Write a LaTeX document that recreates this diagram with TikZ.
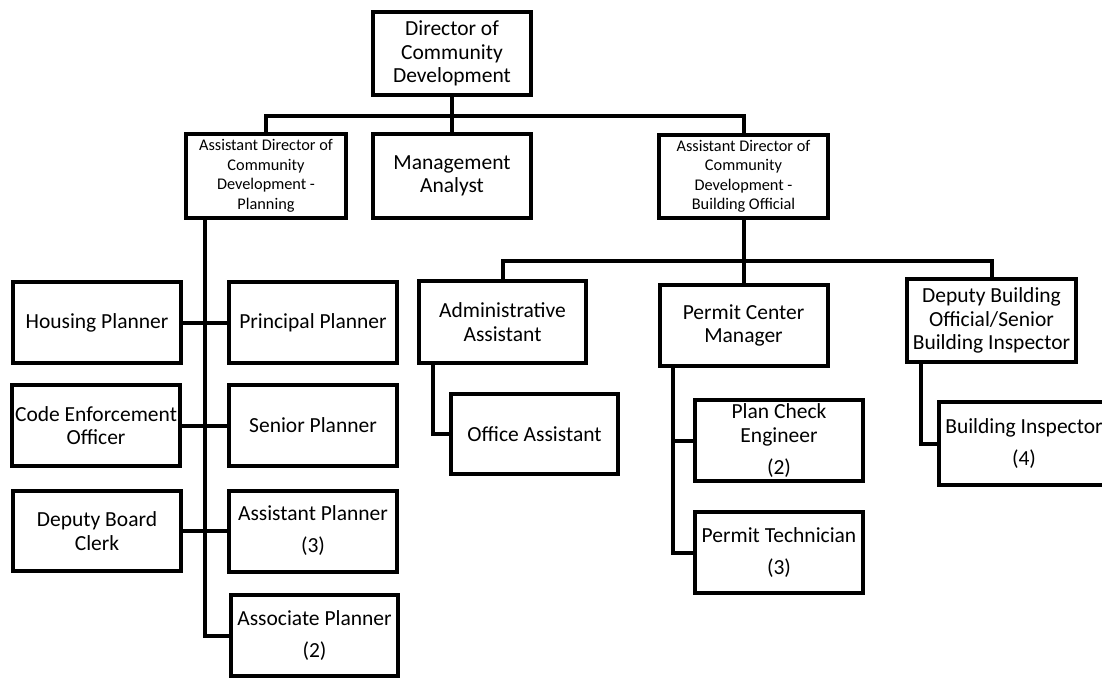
\documentclass[tikz,border=0pt]{standalone}
\usepackage{fontspec}
\setmainfont{Carlito}

\begin{document}
\begin{tikzpicture}[
            x=1pt, y=-1pt,
            post/.style={draw, line width=4pt, align=center, inner sep=0pt,
                minimum width=168pt, minimum height=81pt,
                font=\fontsize{21.5}{23.5}\selectfont},
            smallpost/.style={post, font=\fontsize{16.3}{19.5}\selectfont},
            link/.style={line width=4pt}
        ]
            \useasboundingbox (0,0) rectangle (1102,677);
            \clip (0,0) rectangle (1102,677);

            \node[post, minimum width=158pt, minimum height=83pt] (dir) at (452,53.5) {Director of\\Community\\Development};
            \node[smallpost, minimum width=160pt, minimum height=84pt] (adp) at (266,176) {Assistant Director of\\Community\\Development -\\Planning};
            \node[post, minimum width=158pt, minimum height=84pt] (ma) at (452,176) {Management\\Analyst};
            \node[smallpost, minimum width=169pt, minimum height=83pt] (adb) at (743.5,176.5) {Assistant Director of\\Community\\Development -\\Building Official};

            \node[post] (hp) at (97,322.5) {Housing Planner};
            \node[post] (pp) at (313,322.5) {Principal Planner};
            \node[post] (ceo) at (96,425.5) {Code Enforcement\\Officer};
            \node[post] (sp) at (313,425.5) {Senior Planner};
            \node[post, minimum height=80pt] (dbc) at (97,531) {Deputy Board\\Clerk};
            \node[post] (ap) at (313,531) {Assistant Planner\\[8.5pt](3)};
            \node[post, minimum width=167pt] (asp) at (314.5,635.5) {Associate Planner\\[8.5pt](2)};

            \node[post, minimum width=167pt, minimum height=82pt] (aa) at (502.5,322) {Administrative\\Assistant};
            \node[post, minimum width=167pt, minimum height=80pt] (oa) at (534.5,434) {Office Assistant};
            \node[post] (pcm) at (743.5,325.5) {Permit Center\\Manager};
            \node[post] (pce) at (779,440.5) {Plan Check\\Engineer\\[8.5pt](2)};
            \node[post] (pt) at (779,552.5) {Permit Technician\\[8.5pt](3)};
            \node[post, minimum width=169pt, minimum height=83pt] (dbo) at (991.5,320.5) {Deputy Building\\Official/Senior\\Building Inspector};
            \node[post, minimum width=170pt, minimum height=83pt] (bi) at (1024,443.5) {Building Inspector\\[8.5pt](4)};

            \coordinate (bus1) at (452,116);
            \coordinate (bus2) at (743.5,261);
            \coordinate (trunk) at (205,220);

            \draw[link] (dir.south)--(ma.north);
            \draw[link] (adp.north) |- (bus1) -| (adb.north);
            \draw[link] (trunk) |- (asp.west);
            \draw[link] (hp.east)--(pp.west);
            \draw[link] (ceo.east)--(sp.west);
            \draw[link] (dbc.east)--(ap.west);

            \draw[link] (adb.south)--(pcm.north);
            \draw[link] (aa.north) |- (bus2) -| (dbo.north);
            \draw[link] ([xshift=16pt]aa.south west) |- (oa.west);
            \draw[link] ([xshift=15pt]pcm.south west) |- (pt.west);
            \draw[link] (pce.west) -| ([xshift=15pt]pcm.south west);
            \draw[link] ([xshift=16pt]dbo.south west) |- (bi.west);

        \end{tikzpicture}
\end{document}
